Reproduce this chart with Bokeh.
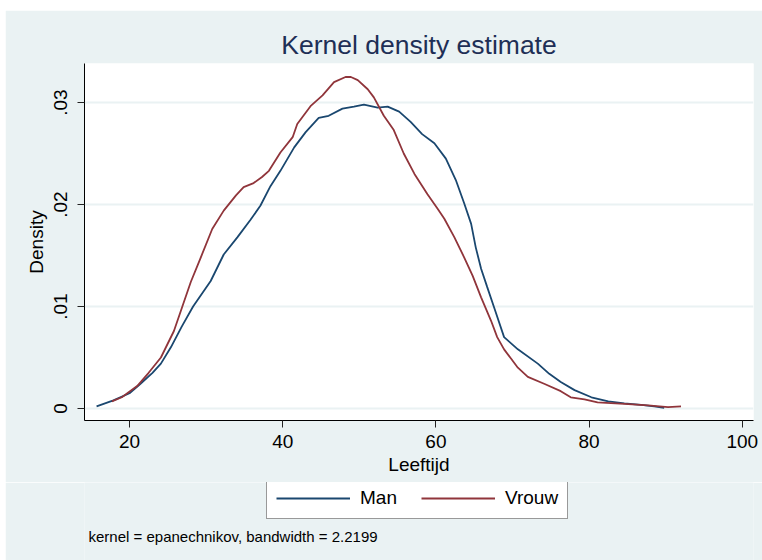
from bokeh.plotting import figure
from bokeh.layouts import column
from bokeh.models import (Range1d, FixedTicker, CustomJSTickFormatter, Legend, LegendItem, Label)
from bokeh.embed import file_html
from bokeh.resources import INLINE

# Data (age, density)
man_age = [15.7, 17.9, 20.0, 21.4, 23.0, 24.1, 25.4, 26.8, 28.3, 30.6, 32.3, 34.1, 35.8, 37.1,
           38.4, 39.7, 41.5, 43.0, 44.7, 46.0, 47.8, 49.3, 50.6, 52.4, 53.7, 55.2, 56.7, 58.2,
           59.8, 61.3, 62.6, 63.7, 64.6, 65.2, 65.9, 66.7, 67.6, 68.9, 70.7, 73.3, 74.8, 76.3,
           78.1, 80.3, 82.5, 84.6, 86.8, 88.5, 89.8]
man_dens = [0.0002, 0.0008, 0.0015, 0.0024, 0.0035, 0.0044, 0.0060, 0.0080, 0.0100, 0.0125,
            0.0151, 0.0168, 0.0185, 0.0199, 0.0218, 0.0233, 0.0256, 0.0271, 0.0285, 0.0287,
            0.0294, 0.0296, 0.0298, 0.0295, 0.0296, 0.0291, 0.0281, 0.0269, 0.0260, 0.0245,
            0.0224, 0.0201, 0.0181, 0.0158, 0.0137, 0.0119, 0.0099, 0.0070, 0.0058, 0.0044,
            0.0034, 0.0026, 0.0018, 0.0011, 0.0007, 0.0005, 0.00036, 0.0002, 0.00007]

vrouw_age = [17.7, 19.0, 21.0, 22.5, 24.1, 25.8, 26.9, 28.0, 29.3, 30.8, 32.3, 33.9, 34.9, 36.2,
             37.3, 38.2, 39.7, 41.3, 41.9, 43.7, 45.2, 46.7, 48.2, 48.9, 49.8, 51.1, 51.9, 53.2,
             54.5, 55.8, 57.2, 58.9, 60.2, 61.1, 62.4, 63.7, 64.8, 65.9, 67.2, 68.0, 68.9, 69.8,
             70.7, 72.0, 74.2, 76.3, 77.6, 79.4, 81.1, 84.6, 87.7, 90.3, 92.0]
vrouw_dens = [0.0007, 0.0011, 0.0022, 0.0035, 0.0050, 0.0076, 0.0100, 0.0124, 0.0148, 0.0176,
              0.0194, 0.0209, 0.0217, 0.0221, 0.0227, 0.0233, 0.0251, 0.0266, 0.0279, 0.0297,
              0.0307, 0.0320, 0.0325, 0.0325, 0.0322, 0.0313, 0.0305, 0.0287, 0.0273, 0.0250,
              0.0230, 0.0210, 0.0196, 0.0186, 0.0168, 0.0148, 0.0130, 0.0109, 0.0086, 0.0070,
              0.0058, 0.0049, 0.0040, 0.0031, 0.0024, 0.0017, 0.0011, 0.0009, 0.0006, 0.00045,
              0.0003, 0.00013, 0.0002]

x_ticks = [20, 40, 60, 80, 100]
y_ticks = [0, 0.01, 0.02, 0.03]
series_names = ["Man", "Vrouw"]
series_colors = ["#1A476F", "#90353B"]
note_text = "kernel = epanechnikov, bandwidth = 2.2199"

FONT = "Liberation Sans"
BG = "#EAF2F3"

# ---------------- main plot ----------------
p = figure(width=757, height=472, output_backend="svg", toolbar_location=None,
           x_range=Range1d(14.125, 101.46), y_range=Range1d(-0.001176, 0.033824),
           min_border_left=79, min_border_right=9, min_border_top=53, min_border_bottom=62,
           background_fill_color="white", border_fill_color=BG, outline_line_color=None)

p.title.text = "Kernel density estimate"
p.title.align = "center"
p.title.text_font = FONT
p.title.text_font_size = "26.5px"
p.title.text_font_style = "normal"
p.title.text_color = "#1E2F56"
p.title.standoff = 8

r1 = p.line(man_age, man_dens, line_color=series_colors[0], line_width=1.8)
r2 = p.line(vrouw_age, vrouw_dens, line_color=series_colors[1], line_width=1.8)

p.xgrid.visible = False
p.ygrid.grid_line_color = BG
p.ygrid.grid_line_width = 2
p.ygrid.ticker = FixedTicker(ticks=y_ticks)

for ax in (p.xaxis[0], p.yaxis[0]):
    ax.axis_line_color = "black"
    ax.axis_line_width = 1
    ax.major_tick_line_color = "#222222"
    ax.major_tick_in = 0
    ax.major_tick_out = 7
    ax.minor_tick_line_color = None
    ax.major_label_text_font = FONT
    ax.major_label_text_font_size = "19px"
    ax.major_label_text_color = "black"
    ax.axis_label_text_font = FONT
    ax.axis_label_text_font_size = "19px"
    ax.axis_label_text_font_style = "normal"
    ax.axis_label_text_color = "black"

p.xaxis.ticker = FixedTicker(ticks=x_ticks)
p.xaxis.axis_label = "Leeftijd"
p.xaxis.major_label_standoff = 7
p.xaxis.axis_label_standoff = 3

p.yaxis.ticker = FixedTicker(ticks=y_ticks)
p.yaxis.formatter = CustomJSTickFormatter(code="""
    if (Math.abs(tick) < 1e-9) { return "0"; }
    return tick.toFixed(2).replace(/^0/, "");
""")
p.yaxis.major_label_orientation = "vertical"
p.yaxis.axis_label = "Density"
p.yaxis.major_label_standoff = 10
p.yaxis.axis_label_standoff = 5

# ---------------- legend + note strip ----------------
q = figure(width=757, height=78, output_backend="svg", toolbar_location=None,
           x_axis_type=None, y_axis_type=None, title_location=None,
           x_range=Range1d(0, 1), y_range=Range1d(1, 2),
           min_border=0, min_border_left=0, min_border_right=0,
           min_border_top=0, min_border_bottom=0,
           background_fill_color=BG, border_fill_color=BG, outline_line_color=None)
q.grid.visible = False

# legend keys (same series; outside this strip's visible range)
k1 = q.line(man_age, man_dens, line_color=series_colors[0], line_width=1.8)
k2 = q.line(vrouw_age, vrouw_dens, line_color=series_colors[1], line_width=1.8)

# the strip's frame is aligned with the main frame (left edge at the y axis)
legend = Legend(items=[LegendItem(label=series_names[0], renderers=[k1]),
                       LegendItem(label=series_names[1], renderers=[k2])],
                orientation="horizontal", location=(182, 41),
                label_text_font=FONT, label_text_font_size="19px", label_text_color="black",
                glyph_width=74, glyph_height=18, label_height=18, label_standoff=10,
                spacing=24, padding=9, margin=0,
                border_line_color="#333333", border_line_width=1,
                background_fill_color="white", background_fill_alpha=1.0)
q.add_layout(legend, "center")

note = Label(x=4, y=24, x_units="screen", y_units="screen", text=note_text,
             text_font=FONT, text_font_size="15px", text_color="black",
             text_baseline="middle", text_align="left")
q.add_layout(note)

layout = column(p, q, spacing=0, margin=(10, 0, 0, 5))

open("out.html", "w").write(file_html(layout, INLINE))
